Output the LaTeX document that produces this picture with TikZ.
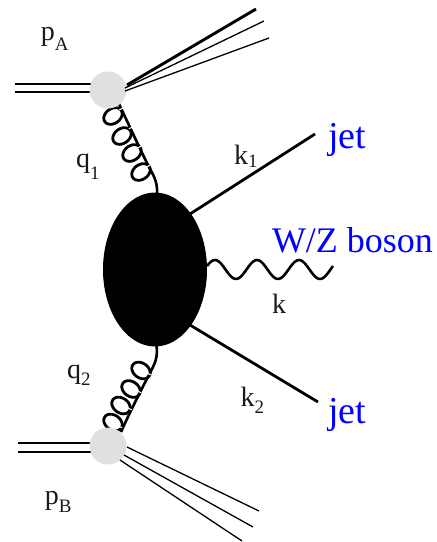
\documentclass[tikz,border=0pt]{standalone}
\usetikzlibrary{shapes.geometric}
\usepackage{fontspec}
\setmainfont{Liberation Serif}
\newcommand{\lblsub}[3]{{\fontsize{28}{28}\selectfont #1}\raisebox{-#3pt}{\fontsize{19}{19}\selectfont #2}}
\begin{document}
\begin{tikzpicture}[x=1pt,y=-1pt,
  txt/.style={anchor=base west,inner sep=0pt,outer sep=0pt,text=black!90},
  bluetxt/.style={anchor=base west,inner sep=0pt,outer sep=0pt,text=blue},
  beam/.style={line width=1.5pt,black},
  thinjet/.style={line width=1.3pt,black},
  thickjet/.style={line width=2.9pt,black},
  glue/.style={line width=2.6pt,black},
  coil/.style={line width=2.8pt,black},
  tick/.style={line width=1.1pt,white},
  hard/.style={line width=2.8pt,black},
  softblob/.style={circle,fill=black!12,minimum size=37pt,inner sep=0pt,outer sep=0pt},
  hardblob/.style={ellipse,fill=black,minimum width=104pt,minimum height=154pt,inner sep=0pt,outer sep=0pt}]
\useasboundingbox (0,0) rectangle (437,542);
% free ends
\coordinate (inA1) at (15,84); \coordinate (inA2) at (15,92);
\coordinate (inB1) at (18,443); \coordinate (inB2) at (18,452);
\coordinate (outA1s) at (127,85); \coordinate (outA1) at (256,9);
\coordinate (outA2s) at (125,88); \coordinate (outA2) at (264,21);
\coordinate (outA3s) at (125,91); \coordinate (outA3) at (269,38);
\coordinate (outB1s) at (127,447); \coordinate (outB1) at (259,511);
\coordinate (outB2s) at (124,455); \coordinate (outB2) at (253,527);
\coordinate (outB3s) at (120,460); \coordinate (outB3) at (242,541);
\coordinate (j1s) at (190,214); \coordinate (j1) at (315,134);
\coordinate (j2s) at (190,325); \coordinate (j2) at (318,402);
% beams
\draw[beam] (inA1) -- (95,84); \draw[beam] (inA2) -- (95,92);
\draw[beam] (inB1) -- (95,443); \draw[beam] (inB2) -- (95,452);
% gluon backbones
\coordinate (gAs) at (119,104); \coordinate (gAe) at (157,195);
\coordinate (gBs) at (121,432); \coordinate (gBe) at (156.5,345);
\draw[glue] (gAs) .. controls (129,125) and (139,147) .. (148,165) .. controls (153,175) and (158,181) .. (gAe);
\draw[glue] (gBs) .. controls (129,414) and (140,392) .. (150,373) .. controls (155,363) and (158,358) .. (gBe);
% gluon coils: screen-space ellipses, long axis at \p degrees (positive = up to the right)
\foreach \cx/\cy/\p in {113/116/35,122/136/35,132/153/35,141/172/35,
                        141/370.5/-35,131/389/-35,121/405.5/-35,113/422.5/-35}
  \draw[coil] plot[smooth cycle,variable=\t,domain=0:345,samples=24]
    ({\cx+10*cos(\t)*cos(\p)-7.4*sin(\t)*sin(\p)},{\cy-10*cos(\t)*sin(\p)-7.4*sin(\t)*cos(\p)});
% white breaks where the coils cross the backbone
\foreach \cx/\cy in {121/109,130.5/128,139.5/147,148.5/166}
  \draw[tick] (\cx-1.7,\cy+0.8) -- (\cx+1.7,\cy-0.8);
\foreach \cx/\cy in {149/374,139.5/392,130/409,120.5/427}
  \draw[tick] (\cx-1.7,\cy-0.8) -- (\cx+1.7,\cy+0.8);
\node[softblob] (A) at (108,90) {};
\node[softblob] (B) at (108,446) {};
\node[hardblob] (H) at (155,269.5) {};
% remnants
\draw[thickjet] (outA1s) -- (outA1);
\draw[thinjet] (outA2s) -- (outA2);
\draw[thinjet] (outA3s) -- (outA3);
\draw[thinjet] (outB1s) -- (outB1);
\draw[thinjet] (outB2s) -- (outB2);
\draw[thinjet] (outB3s) -- (outB3);
% jets
\draw[hard] (j1s) -- (j1);
\draw[hard] (j2s) -- (j2);
% boson
\draw[glue,line cap=butt] plot[smooth,domain=207:333,samples=64] (\x,{269.5-9.5*cos((\x-215)/42*360)});
% labels
\node[txt] (lpA) at (41,40) {\lblsub{p}{A}{10.5}};
\node[txt] (lpB) at (45,504) {\lblsub{p}{B}{8}};
\node[txt] (lq1) at (76,167) {\lblsub{q}{1}{12}};
\node[txt] (lq2) at (67,378) {\lblsub{q}{2}{7}};
\node[txt] (lk1) at (234,164) {\lblsub{k}{1}{3.5}};
\node[txt] (lk2) at (240.5,406) {\lblsub{k}{2}{7}};
\node[txt] (lk) at (272,313) {\fontsize{28}{28}\selectfont k};
\node[bluetxt] (jet1) at (328,148) {\fontsize{38}{38}\selectfont jet};
\node[bluetxt] (jet2) at (328,423) {\fontsize{38}{38}\selectfont jet};
\node[bluetxt] (wz) at (272,252) {\fontsize{36}{36}\selectfont W/Z boson};
\end{tikzpicture}
\end{document}
